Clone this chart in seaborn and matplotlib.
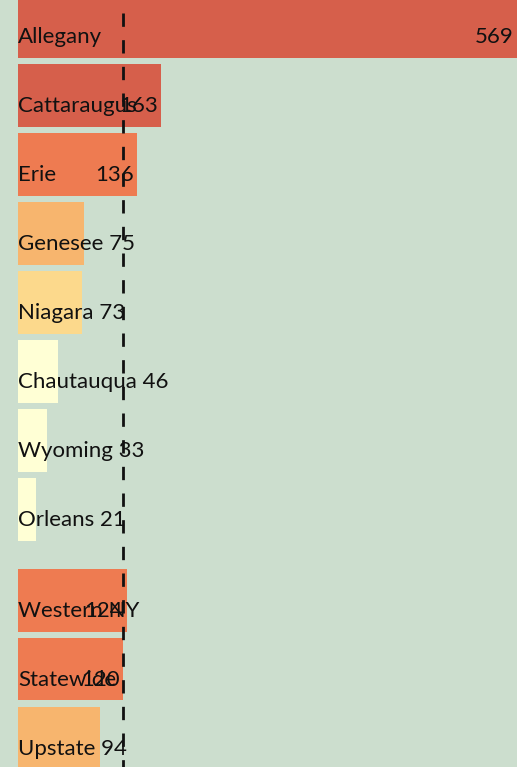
import numpy as np
import pandas as pd
import matplotlib
matplotlib.use("Agg")
import matplotlib.pyplot as plt
import seaborn as sns

# Counties of Western New York
counties = ["Allegany", "Cattaraugus", "Erie", "Genesee",
            "Niagara", "Chautauqua", "Wyoming", "Orleans"]
county_values = [569, 163, 136, 75, 73, 46, 33, 21]

# Regional and statewide comparison rows
regions = ["Western NY", "Statewide", "Upstate"]
region_values = [124, 120, 94]
reference_name = "Statewide"

# Colour classes by value
bin_edges = [0, 50, 75, 100, 150, np.inf]
bin_colors = ["#FFFFD5", "#FCD98C", "#F7B56E", "#EE7B51", "#D65F4B"]

BG = "#CCDECE"
GROUP_GAP = 0.32      # extra space between county and summary rows
BAR_WIDTH = 0.91
INLINE_MIN = 100      # values at or above this sit at the bar end

df = pd.DataFrame({
    "name": counties + regions,
    "value": county_values + region_values,
    "group": ["county"] * len(counties) + ["summary"] * len(regions),
})
df["pos"] = np.arange(len(df)) + np.where(df["group"] == "summary", GROUP_GAP, 0.0)
df["bin"] = pd.cut(df["value"], bins=bin_edges, right=False,
                   labels=[str(i) for i in range(len(bin_colors))]).astype(str)
palette = {str(i): c for i, c in enumerate(bin_colors)}

sns.set_theme(style="white")
plt.rcParams["font.family"] = ["Lato", "DejaVu Sans"]

fig = plt.figure(figsize=(5.17, 7.67), dpi=100, facecolor=BG)
ax = fig.add_axes([18 / 517, 0, 499 / 517, 1])
ax.set_facecolor(BG)

sns.barplot(data=df, x="value", y="pos", hue="bin", palette=palette,
            orient="y", native_scale=True, dodge=False, width=BAR_WIDTH,
            saturation=1, legend=False, ax=ax, zorder=2,
            linewidth=0, edgecolor="none")

ax.set_xlim(0, max(df["value"]))
ax.set_ylim(10.74, -0.39)
for s in ax.spines.values():
    s.set_visible(False)
ax.set_xticks([])
ax.set_yticks([])
ax.set_xlabel("")
ax.set_ylabel("")

# Reference line at the statewide value
ref = df.loc[df["name"] == reference_name, "value"].iloc[0]
ax.plot([ref, ref], [1 - 13.3 / 767, 0], transform=ax.get_xaxis_transform(),
        color="#111111", lw=2, linestyle=(0, (4.8, 4.8)), zorder=3,
        solid_capstyle="butt", dash_capstyle="butt")

FS = 16
BASE = -11.9
for _, r in df.iterrows():
    if r["value"] >= INLINE_MIN:
        ax.annotate(r["name"], xy=(0, r["pos"]), xytext=(0, BASE),
                    textcoords="offset points", ha="left", va="baseline",
                    fontsize=FS, color="#111111", zorder=4)
        ax.annotate(str(r["value"]), xy=(r["value"], r["pos"]), xytext=(-2.5, BASE),
                    textcoords="offset points", ha="right", va="baseline",
                    fontsize=FS, color="#111111", zorder=4)
    else:
        ax.annotate(f"{r['name']} {r['value']}", xy=(0, r["pos"]), xytext=(0, BASE),
                    textcoords="offset points", ha="left", va="baseline",
                    fontsize=FS, color="#111111", zorder=4)

fig.savefig("out.png", dpi=100, facecolor=BG)
